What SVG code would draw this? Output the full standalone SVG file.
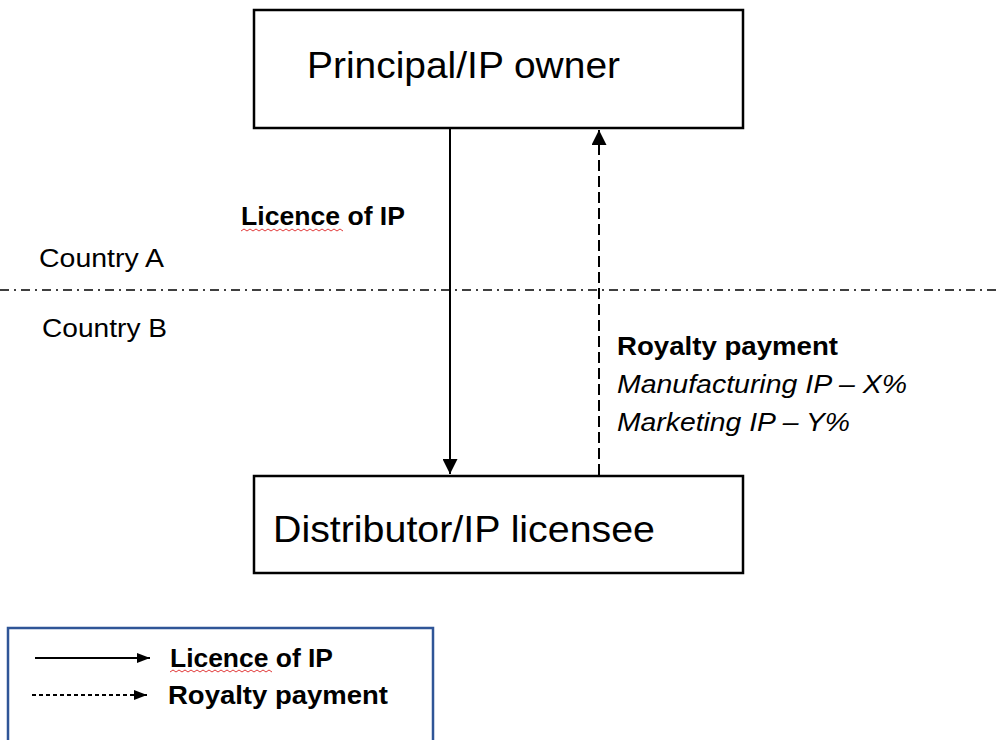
<svg xmlns="http://www.w3.org/2000/svg" width="997" height="740" viewBox="0 0 997 740">
<defs>
<style>
.box{fill:#fff;stroke:#000;stroke-width:2.5}
.t{font-family:"Liberation Sans",Arial,sans-serif;fill:#000}
.big{font-size:37px}
.lbl{font-size:26px}
.b{font-weight:bold}
.i{font-style:italic}
.line{stroke:#000;stroke-width:2;fill:none}
.dash{stroke-dasharray:11,5}
.sq{stroke:#e23a3a;stroke-width:1;fill:none}
</style>
<marker id="ah" viewBox="0 0 10 10" refX="10" refY="5" markerWidth="7.5" markerHeight="7.5" markerUnits="strokeWidth" orient="auto">
<path d="M0,0 L10,5 L0,10 z" fill="#000"/>
</marker>
<marker id="ahs" viewBox="0 0 13 10" refX="13" refY="5" markerWidth="13" markerHeight="10" markerUnits="userSpaceOnUse" orient="auto">
<path d="M0,0 L13,5 L0,10 z" fill="#000"/>
</marker>
</defs>
<rect width="997" height="740" fill="#fff"/>

<line x1="0" y1="290" x2="997" y2="290" stroke="#000" stroke-width="1.5" stroke-dasharray="9,5,2,5"/>
<text class="t" x="39" y="267" font-size="26" textLength="125" lengthAdjust="spacingAndGlyphs">Country A</text>
<text class="t" x="42" y="337" font-size="26" textLength="125" lengthAdjust="spacingAndGlyphs">Country B</text>

<g id="principal">
<rect class="box" x="254" y="10" width="489" height="118"/>
<text class="t big" x="307" y="78" textLength="313" lengthAdjust="spacingAndGlyphs">Principal/IP owner</text>
</g>

<g id="distributor">
<rect class="box" x="254" y="476" width="489" height="97"/>
<text class="t big" x="273" y="542" textLength="382" lengthAdjust="spacingAndGlyphs">Distributor/IP licensee</text>
</g>

<g id="connectors">
<line class="line" x1="450" y1="129" x2="450" y2="474" marker-end="url(#ah)"/>
<line class="line dash" x1="599" y1="475" x2="599" y2="130" marker-end="url(#ah)"/>
</g>

<g id="labels">
<text class="t lbl b" x="241" y="225" textLength="164" lengthAdjust="spacingAndGlyphs">Licence of IP</text>
<path class="sq" d="M241,231 l3,-2 l3,2 l3,-2 l3,2 l3,-2 l3,2 l3,-2 l3,2 l3,-2 l3,2 l3,-2 l3,2 l3,-2 l3,2 l3,-2 l3,2 l3,-2 l3,2 l3,-2 l3,2 l3,-2 l3,2 l3,-2 l3,2 l3,-2 l3,2 l3,-2 l3,2 l3,-2 l3,2 l3,-2 l3,2 l3,-2 l3,2"/>
<text class="t lbl b" x="617" y="355" textLength="221" lengthAdjust="spacingAndGlyphs">Royalty payment</text>
<text class="t lbl i" x="617" y="393" textLength="290" lengthAdjust="spacingAndGlyphs">Manufacturing IP – X%</text>
<text class="t lbl i" x="617" y="431" textLength="233" lengthAdjust="spacingAndGlyphs">Marketing IP – Y%</text>
</g>

<g id="legend">
<rect x="8" y="628" width="425" height="140" fill="none" stroke="#2f5597" stroke-width="2.5"/>
<line class="line" x1="35" y1="658" x2="150" y2="658" stroke-width="1.5" marker-end="url(#ahs)"/>
<text class="t lbl b" x="170" y="667" textLength="163" lengthAdjust="spacingAndGlyphs">Licence of IP</text>
<path class="sq" d="M170,672 l3,-2 l3,2 l3,-2 l3,2 l3,-2 l3,2 l3,-2 l3,2 l3,-2 l3,2 l3,-2 l3,2 l3,-2 l3,2 l3,-2 l3,2 l3,-2 l3,2 l3,-2 l3,2 l3,-2 l3,2 l3,-2 l3,2 l3,-2 l3,2 l3,-2 l3,2 l3,-2 l3,2 l3,-2 l3,2 l3,-2 l3,2"/>
<line class="line" x1="32" y1="695" x2="147" y2="695" stroke-width="1.5" stroke-dasharray="4,3" marker-end="url(#ahs)"/>
<text class="t lbl b" x="168" y="704" textLength="220" lengthAdjust="spacingAndGlyphs">Royalty payment</text>
</g>
</svg>
